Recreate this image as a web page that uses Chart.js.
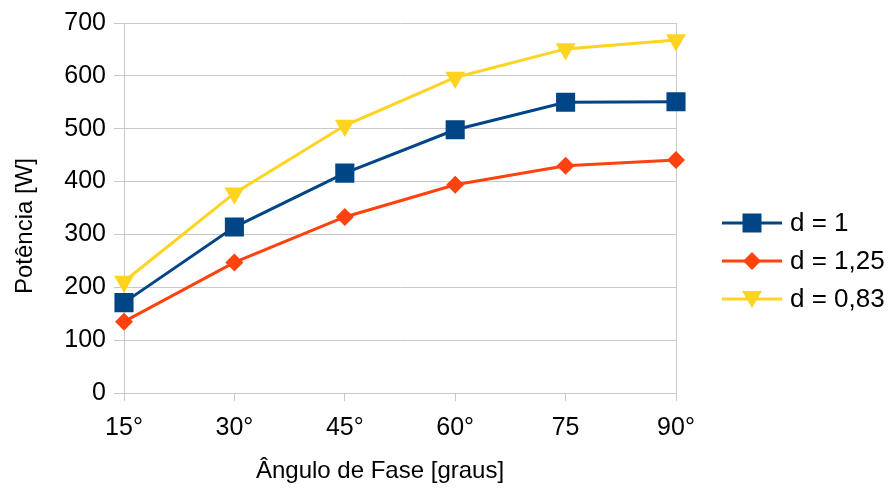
<!DOCTYPE html>
<html>
<head>
<meta charset="utf-8">
<script src="https://cdn.jsdelivr.net/npm/chart.js@4"></script>
<style>
  html, body { margin: 0; padding: 0; background: #fff; }
  #wrap { width: 889px; height: 491px; }
</style>
</head>
<body>
<div id="wrap"><canvas id="chart"></canvas></div>
<script>
const angles = ["15°", "30°", "45°", "60°", "75", "90°"];
const seriesNames = ["d = 1", "d = 1,25", "d = 0,83"];
const powerD1 = [171, 314, 416, 498, 550, 551];
const powerD125 = [135, 247, 333, 394, 430, 441];
const powerD083 = [211, 378, 506, 597, 651, 668];
const yTicks = [0, 100, 200, 300, 400, 500, 600, 700];
const xTitle = "Ângulo de Fase [graus]";
const yTitle = "Potência [W]";

const colors = ["#004586", "#ff420e", "#ffd320"];
const gridColor = "#c8c8c8";
const fontFamily = "'Liberation Sans', Arial, sans-serif";

function drawMarker(ctx, style, x, y, color) {
    ctx.fillStyle = color;
    ctx.beginPath();
    if (style === "rect") {
        ctx.rect(x - 9.5, y - 9.5, 19, 19);
    } else if (style === "rectRot") {
        ctx.moveTo(x - 9, y);
        ctx.lineTo(x, y - 9);
        ctx.lineTo(x + 9, y);
        ctx.lineTo(x, y + 9);
        ctx.closePath();
    } else {
        ctx.moveTo(x - 10, y - 8);
        ctx.lineTo(x + 10, y - 8);
        ctx.lineTo(x, y + 9);
        ctx.closePath();
    }
    ctx.fill();
}

// legend on the right (line + marker + label) and the two axis titles
const sideLegend = {
    id: "sideLegend",
    afterDraw(chart) {
        const ctx = chart.ctx;
        ctx.save();
        chart.data.datasets.forEach((ds, i) => {
            const y = 223 + i * 38;
            ctx.strokeStyle = ds.borderColor;
            ctx.lineWidth = 3;
            ctx.beginPath();
            ctx.moveTo(722, y);
            ctx.lineTo(782, y);
            ctx.stroke();
            drawMarker(ctx, ds.pointStyle, 752, y, ds.borderColor);
            ctx.fillStyle = "#000";
            ctx.font = "26px " + fontFamily;
            ctx.textBaseline = "middle";
            ctx.textAlign = "left";
            ctx.fillText(ds.label, 790, y + 1);
        });

        ctx.fillStyle = "#000";
        ctx.font = "24px " + fontFamily;
        ctx.textAlign = "center";
        ctx.textBaseline = "middle";
        ctx.fillText(xTitle, 380, 471);

        ctx.translate(25, 226);
        ctx.rotate(-Math.PI / 2);
        ctx.fillText(yTitle, 0, 0);
        ctx.restore();
    }
};

const ctx = document.getElementById("chart").getContext("2d");
new Chart(ctx, {
    type: "line",
    data: {
        labels: angles,
        datasets: [
            {
                label: seriesNames[0],
                data: powerD1,
                borderColor: colors[0],
                backgroundColor: colors[0],
                borderWidth: 3,
                pointStyle: "rect",
                pointRadius: 13.5,
                pointBorderWidth: 0
            },
            {
                label: seriesNames[1],
                data: powerD125,
                borderColor: colors[1],
                backgroundColor: colors[1],
                borderWidth: 3,
                pointStyle: "rectRot",
                pointRadius: 9,
                pointBorderWidth: 0
            },
            {
                label: seriesNames[2],
                data: powerD083,
                borderColor: colors[2],
                backgroundColor: colors[2],
                borderWidth: 3,
                pointStyle: "triangle",
                pointRotation: 180,
                pointRadius: 11.5,
                pointBorderWidth: 0
            }
        ]
    },
    options: {
        responsive: true,
        maintainAspectRatio: false,
        animation: false,
        layout: { padding: { left: 7, right: 213, top: 22, bottom: 1 } },
        plugins: {
            legend: { display: false },
            tooltip: { enabled: false }
        },
        scales: {
            x: {
                offset: false,
                grid: {
                    color: c => (c.index === 0 || c.index === angles.length - 1) ? gridColor : "transparent",
                    tickColor: gridColor,
                    tickLength: 8,
                    lineWidth: 1
                },
                border: { color: gridColor },
                ticks: {
                    color: "#000",
                    font: { family: fontFamily, size: 25 },
                    padding: 12,
                    maxRotation: 0
                },
                afterFit(scale) { scale.height = 97; }
            },
            y: {
                min: yTicks[0],
                max: yTicks[yTicks.length - 1],
                afterBuildTicks(scale) { scale.ticks = yTicks.map(v => ({ value: v })); },
                grid: { color: gridColor, tickColor: gridColor, tickLength: 10 },
                border: { color: gridColor },
                ticks: {
                    color: "#000",
                    font: { family: fontFamily, size: 25 },
                    padding: 8
                },
                afterFit(scale) { scale.width = 117; }
            }
        }
    },
    plugins: [sideLegend]
});
</script>
</body>
</html>
